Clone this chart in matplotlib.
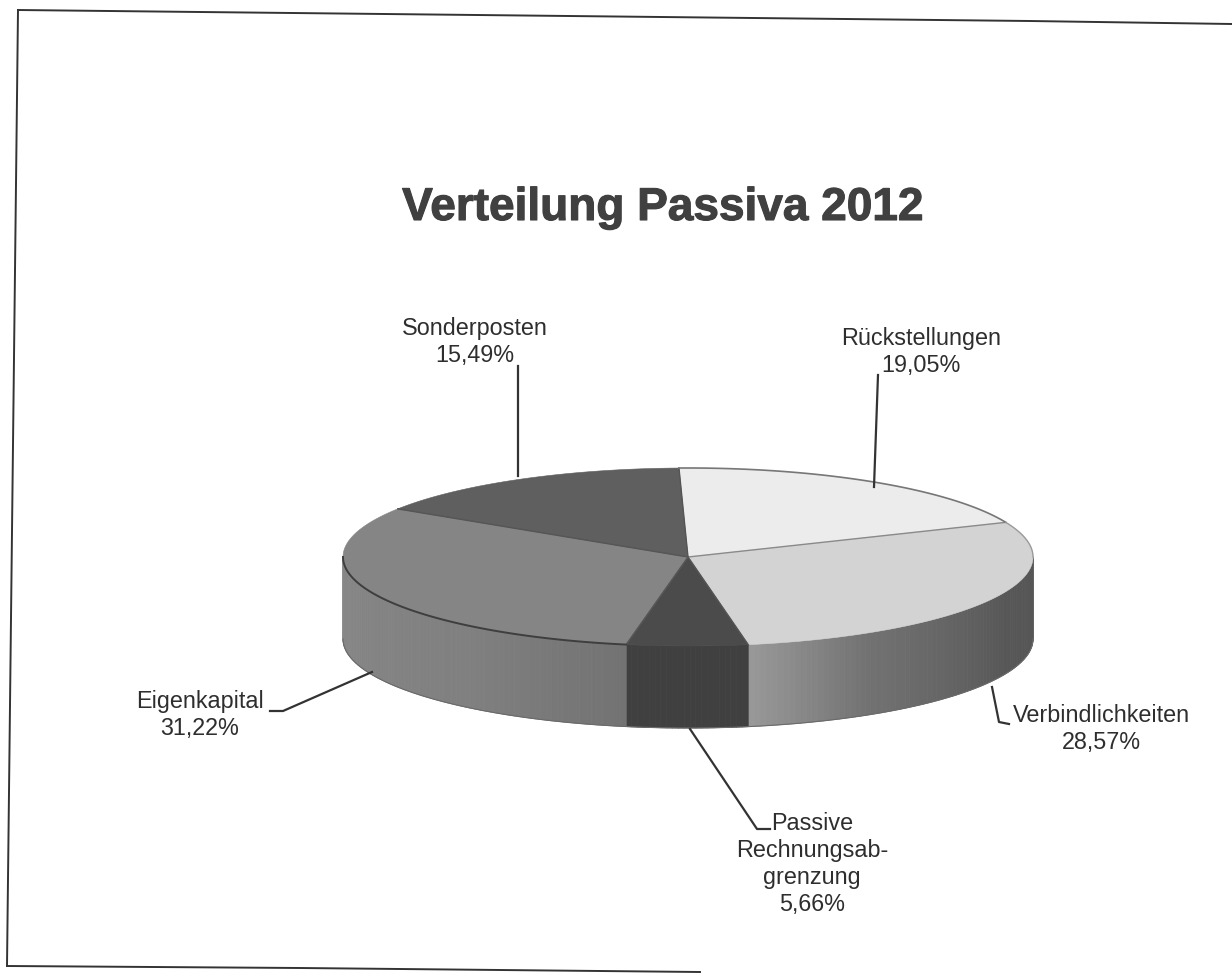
import numpy as np
import matplotlib
matplotlib.use("Agg")
import matplotlib.pyplot as plt
import matplotlib.patheffects as pe
from matplotlib.collections import PolyCollection

title = "Verteilung Passiva 2012"
# clockwise from the top of the pie
names = ["Rückstellungen", "Verbindlichkeiten", "Passive\nRechnungsab-\ngrenzung", "Eigenkapital", "Sonderposten"]
shares = [19.05, 28.57, 5.66, 31.22, 15.49]

top_colors = ["#ececec", "#d3d3d3", "#4b4b4b", "#858585", "#5f5f5f"]
# side shading as (angle fraction inside the slice, grey level)
side_shades = [
    ([0, 1], [0.40, 0.40]),
    ([0, 0.45, 0.8, 1], [0.33, 0.34, 0.45, 0.60]),
    ([0, 1], [0.25, 0.25]),
    ([0, 0.25, 1], [0.45, 0.50, 0.55]),
    ([0, 1], [0.40, 0.40]),
]

# pie geometry in image pixels
cx, cy = 688, 557
rx, ry = 345, 89
depth = 82
start = -1.5

label_xy = [(921, 352), (1101, 729), (812, 864), (200, 715), (475, 342)]
leaders = [
    [(878, 375), (874, 487)],
    [(992, 687), (999, 722), (1009, 724)],
    [(690, 729), (757, 829), (770, 829)],
    [(270, 711), (283, 711), (372, 672)],
    [(518, 366), (518, 476)],
]
frame_lines = [
    [(18, 10), (7, 966)],
    [(18, 10), (200, 12), (1030, 21), (1232, 24)],
    [(7, 966), (300, 968), (700, 972)],
]


def rim(theta, drop=0):
    t = np.radians(theta)
    return np.column_stack([cx + rx * np.sin(t), cy - ry * np.cos(t) + drop])


plt.rcParams["font.family"] = ["Liberation Sans", "DejaVu Sans"]
fig = plt.figure(figsize=(12.32, 9.73), dpi=100)
ax = fig.add_axes([0, 0, 1, 1])
ax.set_xlim(0, 1232)
ax.set_ylim(973, 0)
ax.set_axis_off()

edges = start + np.cumsum([0] + [s / sum(shares) * 360 for s in shares])

# side wall, only the front half is visible
strips, strip_colors = [], []
for i in range(len(shares)):
    a0, a1 = edges[i], edges[i + 1]
    lo, hi = max(a0, 90), min(a1, 270)
    if hi <= lo:
        continue
    steps = np.linspace(lo, hi, int(hi - lo) + 2)
    for s0, s1 in zip(steps[:-1], steps[1:]):
        arc = np.linspace(s0, s1, 4)
        strips.append(np.vstack([rim(arc), rim(arc[::-1], depth)]))
        frac = ((s0 + s1) / 2 - a0) / (a1 - a0)
        grey = np.interp(frac, *side_shades[i])
        strip_colors.append((grey, grey, grey))
ax.add_collection(PolyCollection(strips, facecolors=strip_colors, edgecolors=strip_colors, linewidths=0.6, zorder=1))

# top face
for i in range(len(shares)):
    arc = np.linspace(edges[i], edges[i + 1], 200)
    pts = np.vstack([[cx, cy], rim(arc)])
    ax.fill(pts[:, 0], pts[:, 1], color=top_colors[i], lw=0.4, zorder=2)

# seams on the pie
for i in range(len(shares)):
    p = rim(np.array([edges[i]]))[0]
    ax.plot([cx, p[0]], [cy, p[1]], color="#8a8a8a" if i == 1 else "#555555", lw=1.0, zorder=3)
arc = np.linspace(edges[0], edges[1], 100)
ax.plot(*rim(arc).T, color="#777777", lw=1.2, zorder=3)
arc = np.linspace(edges[3], 270, 80)
ax.plot(*rim(arc).T, color="#3e3e3e", lw=1.4, zorder=3)
arc = np.linspace(edges[1], 90, 80)
ax.plot(*rim(arc).T, color="#9a9a9a", lw=1.0, zorder=3)
arc = np.linspace(90, 270, 200)
ax.plot(*rim(arc, depth).T, color="#6a6a6a", lw=0.8, zorder=3)

for pts in leaders:
    xs, ys = zip(*pts)
    ax.plot(xs, ys, color="#333333", lw=1.6, zorder=4, solid_joinstyle="round")

for name, share, xy in zip(names, shares, label_xy):
    label = f"{name}\n{share:.2f}%".replace(".", ",")
    ax.text(xy[0], xy[1], label, ha="center", va="center", ma="center", fontsize=16.8,
            linespacing=1.21, color="#2e2e2e", zorder=5)

t = ax.text(663, 208, title, ha="center", va="center", fontsize=33.1, fontweight="bold", color="#404040")
t.set_path_effects([pe.withStroke(linewidth=0.8, foreground="#404040")])

for pts in frame_lines:
    xs, ys = zip(*pts)
    ax.plot(xs, ys, color="#333333", lw=1.4, zorder=4)

fig.savefig("out.png", dpi=100)
